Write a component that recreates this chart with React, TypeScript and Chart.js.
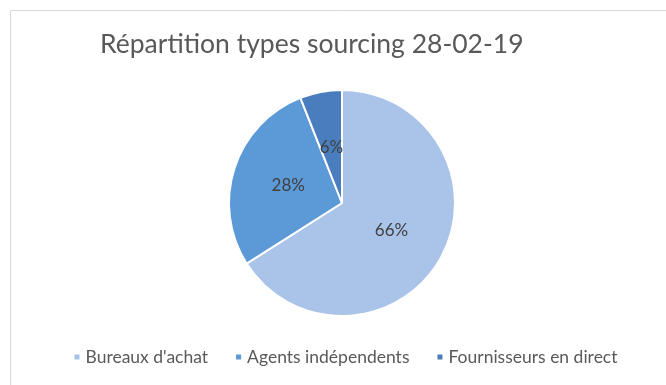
import React, { useEffect, useRef } from "react";
import { Chart, registerables } from "chart.js";

Chart.register(...registerables);

const TITLE = "Répartition types sourcing 28-02-19";
const categories = ["Bureaux d'achat", "Agents indépendents", "Fournisseurs en direct"];
const values = [66, 28, 6];
const colors = ["#a9c4e8", "#5b9ad6", "#4a7dbd"];

const FONT = "Lato, 'Open Sans', sans-serif";

const decorPlugin = {
  id: "decor",
  beforeDraw(chart: any) {
    const ctx = chart.ctx;
    ctx.save();
    ctx.fillStyle = "#ffffff";
    ctx.fillRect(0, 0, chart.width, chart.height);
    ctx.strokeStyle = "#d9d9d9";
    ctx.lineWidth = 1;
    ctx.beginPath();
    ctx.moveTo(10.5, chart.height);
    ctx.lineTo(10.5, 10.5);
    ctx.lineTo(chart.width, 10.5);
    ctx.stroke();
    ctx.restore();
  },
  afterDatasetsDraw(chart: any) {
    const ctx = chart.ctx;
    ctx.save();
    // data labels
    const meta = chart.getDatasetMeta(0);
    ctx.font = `17px ${FONT}`;
    ctx.fillStyle = "#404040";
    ctx.textAlign = "center";
    ctx.textBaseline = "middle";
    meta.data.forEach((arc: any, i: number) => {
      const p = arc.tooltipPosition();
      ctx.fillText(`${values[i]}%`, p.x, p.y);
    });
    // title
    ctx.font = `26.5px ${FONT}`;
    ctx.fillStyle = "#595959";
    ctx.textAlign = "left";
    ctx.textBaseline = "alphabetic";
    ctx.fillText(TITLE, 100, 53);
    // legend
    ctx.font = `17.5px ${FONT}`;
    ctx.textBaseline = "middle";
    ctx.textAlign = "left";
    const box = 5;
    const gapBox = 6;
    const gapItem = 28;
    const widths = categories.map((c) => ctx.measureText(c).width);
    const total = widths.reduce((a, w) => a + box + gapBox + w, 0) + gapItem * (categories.length - 1);
    let x = 346 - total / 2;
    const y = 357;
    categories.forEach((c, i) => {
      ctx.fillStyle = colors[i];
      ctx.fillRect(x, y - box / 2, box, box);
      x += box + gapBox;
      ctx.fillStyle = "#595959";
      ctx.fillText(c, x, y);
      x += widths[i] + gapItem;
    });
    ctx.restore();
  },
};

export default function App() {
  const ref = useRef<HTMLCanvasElement>(null);
  useEffect(() => {
    document.body.style.margin = "0";
    const chart = new Chart(ref.current!, {
      type: "pie",
      data: {
        labels: categories,
        datasets: [
          {
            data: values,
            backgroundColor: colors,
            borderColor: "#ffffff",
            borderWidth: 2,
          },
        ],
      },
      options: {
        animation: false,
        responsive: false,
        events: [],
        layout: { padding: { left: 228, right: 210, top: 88, bottom: 67 } },
        plugins: {
          legend: { display: false },
          title: { display: false },
          tooltip: { enabled: false },
        },
      },
      plugins: [decorPlugin],
    });
    return () => chart.destroy();
  }, []);
  return (
    <div style={{ width: 666, height: 385 }}>
      <canvas ref={ref} width={666} height={385} style={{ display: "block" }} />
    </div>
  );
}
